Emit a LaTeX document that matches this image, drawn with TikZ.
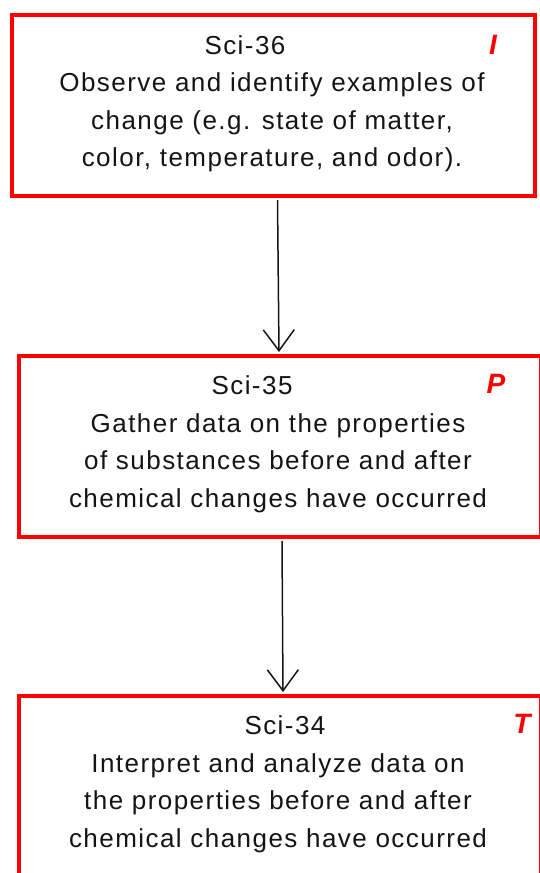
\documentclass[tikz,border=0pt]{standalone}
\usepackage{fontspec}
\setmainfont{Liberation Sans}
\newfontfamily\boxfont[LetterSpace=5.6]{Liberation Sans}
\usetikzlibrary{arrows.meta}
\definecolor{boxred}{RGB}{255,0,0}
\definecolor{ink}{RGB}{20,20,20}
\begin{document}
\begin{tikzpicture}[x=1pt,y=-1pt,
  stepbox/.style={draw=boxred, line width=4pt, inner sep=0pt,
    minimum width=#1, minimum height=181pt},
  steptext/.style={anchor=base, align=center, inner sep=0pt, text=ink,
    font=\boxfont\fontsize{26pt}{37.5pt}\selectfont},
  levelmark/.style={anchor=base, inner sep=0pt, text=boxred,
    font=\fontsize{28pt}{30pt}\selectfont\bfseries\itshape},
  flow/.style={draw=ink, line width=1.5pt,
    -{Straight Barb[length=21pt, width=31pt, line width=1.5pt]}}]
  \useasboundingbox (0,0) rectangle (539,873);

  % three stacked outcome boxes
  \node[stepbox=523pt] (b1) at (273.5,105.5) {};
  \node[stepbox=522pt] (b2) at (280,446.5) {};
  \node[stepbox=522pt] (b3) at (280,786.5) {};

  % box texts (base anchor sits on the last line)
  \node[steptext] (t1) at (272,166.5)
    {Sci-36\hspace*{54pt}\\Observe and identify examples of\\change (e.g. state of matter,\\color, temperature, and odor).};
  \node[steptext] (t2) at (278,507)
    {Sci-35\hspace*{52pt}\\Gather data on the properties\\of substances before and after\\chemical changes have occurred};
  \node[steptext] (t3) at (278,847)
    {\hspace*{14pt}Sci-34\\Interpret and analyze data on\\the properties before and after\\chemical changes have occurred};

  % level letters
  \node[levelmark] (m1) at (493,54) {I};
  \node[levelmark] (m2) at (496,393) {P};
  \node[levelmark] (m3) at (522,733) {T};

  % connectors
  \draw[flow] ([xshift=4pt,yshift=-2pt]b1.south) -- ([xshift=-1pt,yshift=2pt]b2.north);
  \draw[flow] ([xshift=2pt,yshift=-2pt]b2.south) -- ([xshift=3pt,yshift=2pt]b3.north);
\end{tikzpicture}
\end{document}
